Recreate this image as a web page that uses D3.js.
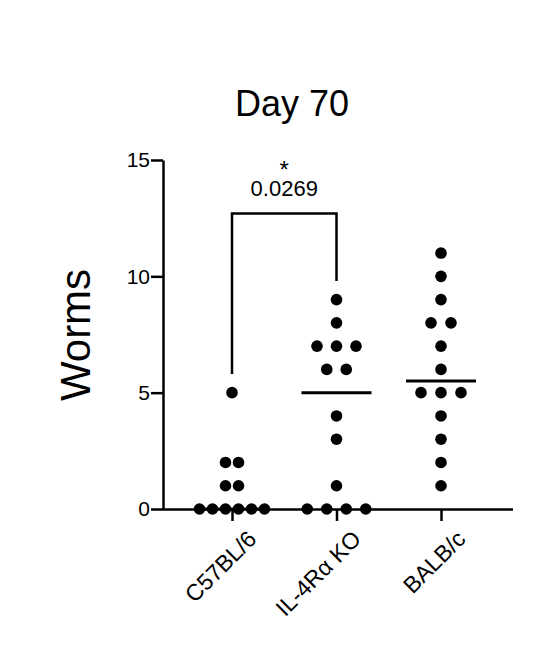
<!DOCTYPE html>
<html>
<head>
<meta charset="utf-8">
<script src="https://cdn.jsdelivr.net/npm/d3@7"></script>
<style>
  body { margin: 0; background: #fff; }
  text { font-family: Arial, "Liberation Sans", sans-serif; fill: #000; }
</style>
</head>
<body>
<div id="chart"></div>
<script>
// Groupes et valeurs
const groups = ['C57BL/6', 'IL-4Rα KO', 'BALB/c'];
const c57Values = [0, 0, 0, 0, 0, 0, 1, 1, 2, 2, 5];
const koValues = [0, 0, 0, 0, 1, 3, 4, 6, 6, 7, 7, 7, 8, 9];
const balbValues = [1, 2, 3, 4, 5, 5, 5, 6, 7, 8, 8, 9, 10, 11];
const medians = [0, 5, 5.5];
const yTicks = [0, 5, 10, 15];
const pValue = '0.0269';

const allValues = [c57Values, koValues, balbValues];

const width = 543, height = 670;
const svg = d3.select('#chart').append('svg')
    .attr('width', width)
    .attr('height', height);

const x = d3.scalePoint()
    .domain(groups)
    .range([232, 441]);

const y = d3.scaleLinear()
    .domain([0, 15])
    .range([509, 160]);

// Titre
svg.append('text')
    .attr('x', 292).attr('y', 116)
    .attr('text-anchor', 'middle')
    .style('font-size', '36px')
    .text('Day 70');

// Axe Y
const yAxis = svg.append('g')
    .attr('transform', 'translate(163,0)')
    .call(d3.axisLeft(y).tickValues(yTicks).tickSize(12).tickSizeOuter(0));
yAxis.select('.domain').attr('stroke-width', 2.5);
yAxis.selectAll('.tick line').attr('stroke-width', 2.5);
yAxis.selectAll('.tick text').style('font-size', '21px').attr('x', -13)
    .style('font-family', 'Arial, "Liberation Sans", sans-serif');

svg.append('text')
    .attr('transform', 'translate(90,335) rotate(-90)')
    .attr('text-anchor', 'middle')
    .style('font-size', '42px')
    .text('Worms');

// Axe X
const xAxis = svg.append('g')
    .attr('transform', `translate(0,${y(0)})`)
    .call(d3.axisBottom(x).tickSize(12).tickSizeOuter(0));
xAxis.select('.domain').attr('d', `M163,0.5H513`).attr('stroke-width', 2.5);
xAxis.selectAll('.tick line').attr('stroke-width', 2.5);
xAxis.selectAll('.tick text')
    .style('font-size', '23px')
    .attr('text-anchor', 'end')
    .attr('transform', 'translate(14,20) rotate(-45)')
    .attr('x', 0).attr('y', 0).attr('dy', '0.7em')
    .style('font-family', 'Arial, "Liberation Sans", sans-serif');

// Points en essaim : valeurs égales réparties horizontalement
allValues.forEach((vals, gi) => {
    const counts = d3.rollup(vals, v => v.length, d => d);
    const maxCount = d3.max(counts.values());
    const step = Math.min(20, 78 / maxCount);
    const seen = new Map();
    const pts = vals.map(v => {
        const n = counts.get(v);
        const i = seen.get(v) || 0;
        seen.set(v, i + 1);
        return { v, dx: (i - (n - 1) / 2) * step };
    });
    svg.append('g').selectAll('circle')
        .data(pts)
        .join('circle')
        .attr('cx', d => x(groups[gi]) + d.dx)
        .attr('cy', d => y(d.v))
        .attr('r', 5.8)
        .attr('fill', '#000');
});

// Médianes
svg.append('g').selectAll('line')
    .data(medians)
    .join('line')
    .attr('x1', (d, i) => x(groups[i]) - 35)
    .attr('x2', (d, i) => x(groups[i]) + 35)
    .attr('y1', d => y(d))
    .attr('y2', d => y(d))
    .attr('stroke', '#000')
    .attr('stroke-width', 3);

// Barre de significativité
const x1 = x(groups[0]), x2 = x(groups[1]), yb = y(12.7);
svg.append('path')
    .attr('d', `M${x1},${y(5.8)}V${yb}H${x2}V${y(9.8)}`)
    .attr('fill', 'none')
    .attr('stroke', '#000')
    .attr('stroke-width', 2.5);
svg.append('text')
    .attr('x', (x1 + x2) / 2).attr('y', 196)
    .attr('text-anchor', 'middle')
    .style('font-size', '22px')
    .text(pValue);
svg.append('text')
    .attr('x', (x1 + x2) / 2).attr('y', 178)
    .attr('text-anchor', 'middle')
    .style('font-size', '24px')
    .text('*');
</script>
</body>
</html>
